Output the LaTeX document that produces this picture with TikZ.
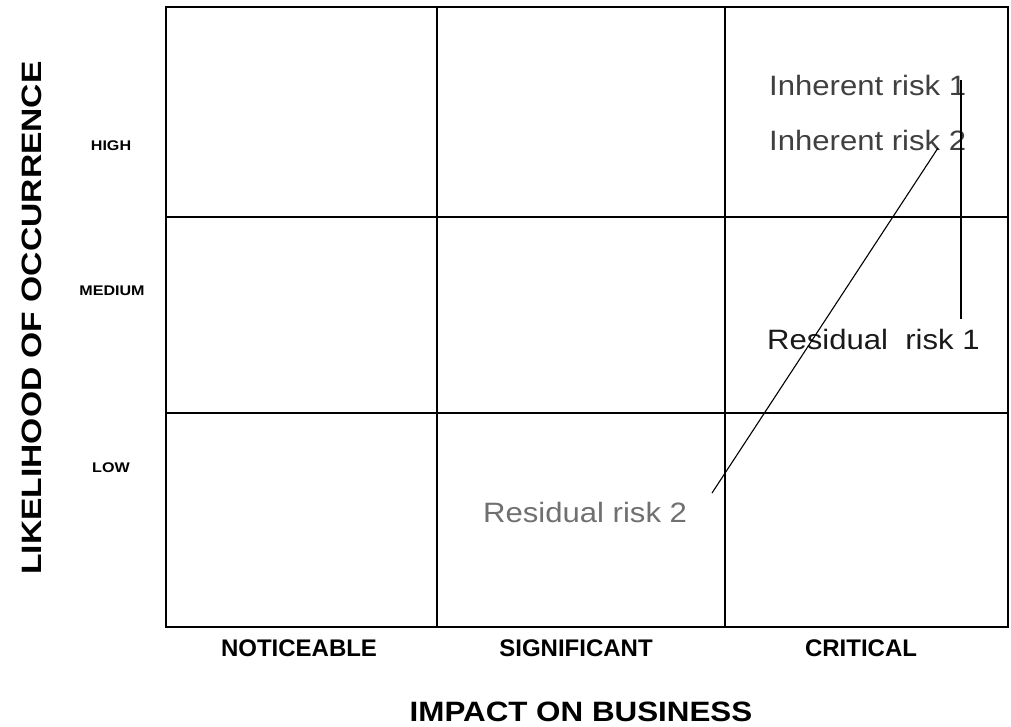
\documentclass[tikz,border=0pt]{standalone}
\usepackage{fontspec}
\setmainfont{Liberation Sans}
\newfontfamily\riskfont[FakeStretch=1.11]{Liberation Sans}
\newfontfamily\rowfont[FakeStretch=1.15]{Liberation Sans}
\newfontfamily\titlefont[FakeStretch=1.2]{Liberation Sans}
\newfontfamily\impactfont[FakeStretch=1.12]{Liberation Sans}
\definecolor{inhgray}{HTML}{404040}
\definecolor{resgray}{HTML}{707070}
\definecolor{resblack}{HTML}{1A1A1A}
\begin{document}
\begin{tikzpicture}[x=1pt,y=-1pt,
  gridline/.style={line width=2.8pt},
  conn/.style={line width=1.1pt, black},
  rowlab/.style={inner sep=0pt, font=\rowfont\bfseries\fontsize{14}{16}\selectfont},
  collab/.style={inner sep=0pt, font=\bfseries\fontsize{24}{28}\selectfont},
  axistitle/.style={inner sep=0pt},
  risklab/.style={inner sep=0pt, anchor=base west, font=\riskfont\fontsize{28}{32}\selectfont}]
\useasboundingbox (0,0) rectangle (1011,726);
\fill[white] (0,0) rectangle (1011,726);
% grid
\draw[gridline] (166,7) rectangle (1008,627);
\draw[gridline] (437,7) -- (437,627);
\draw[gridline] (725,7) -- (725,627);
\draw[gridline] (166,217) -- (1008,217);
\draw[gridline] (166,413) -- (1008,413);
% row labels
\node[rowlab] (high) at (111,146) {HIGH};
\node[rowlab] (medium) at (112,291) {MEDIUM};
\node[rowlab] (low) at (111,468) {LOW};
% column labels
\node[collab] (noticeable) at (299,648) {NOTICEABLE};
\node[collab] (significant) at (576,648) {SIGNIFICANT};
\node[collab] (critical) at (861,648) {CRITICAL};
% axis titles
\node[axistitle, rotate=90, font=\titlefont\bfseries\fontsize{28}{32}\selectfont] (ytitle) at (32,318) {LIKELIHOOD OF OCCURRENCE};
\node[axistitle, anchor=base, font=\impactfont\bfseries\fontsize{28}{32}\selectfont] (xtitle) at (581,721) {IMPACT ON BUSINESS};
% risk labels
\node[risklab, text=inhgray] (ir1) at (769,95) {Inherent risk 1};
\node[risklab, text=inhgray] (ir2) at (769,150) {Inherent risk 2};
\node[risklab, text=resblack] (rr1) at (767,349) {Residual\ \ risk 1};
\node[risklab, text=resgray] (rr2) at (483,522) {Residual risk 2};
% connectors
\coordinate (c1top) at (961,80);
\coordinate (c1bot) at (961,319);
\coordinate (c2top) at (938,148);
\coordinate (c2bot) at (712,493);
\draw[conn] (c1top) -- (c1bot);
\draw[conn] (c2top) -- (c2bot);
\end{tikzpicture}
\end{document}
